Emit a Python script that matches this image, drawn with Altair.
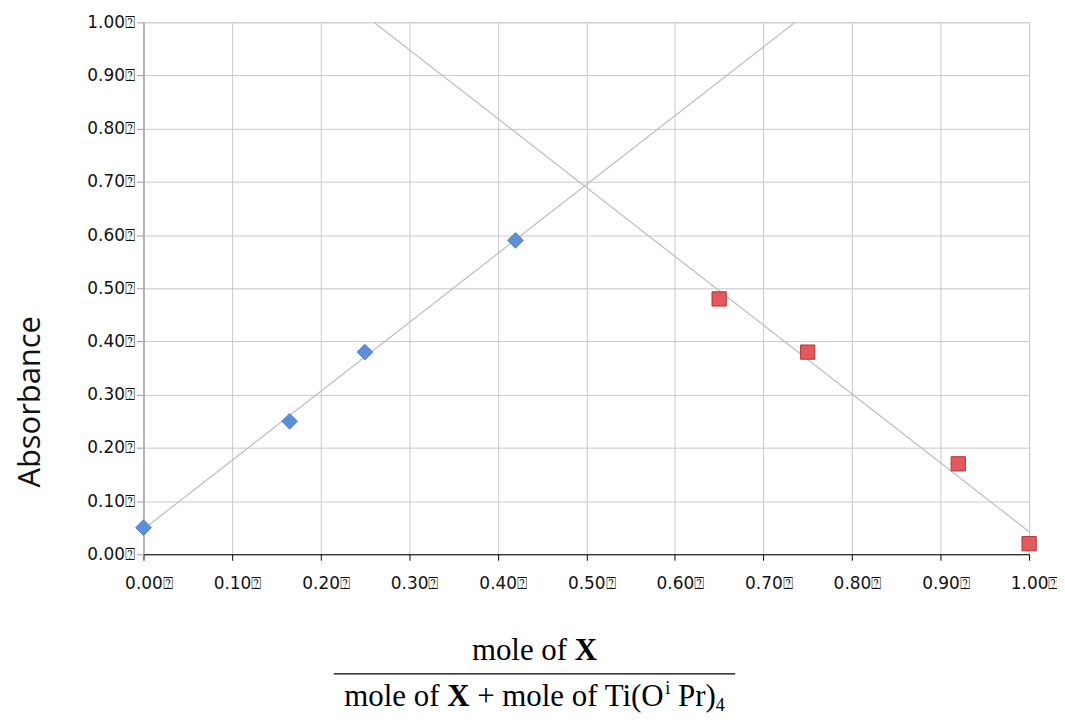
import altair as alt
import pandas as pd

# ---- data ----
blue_x = [0.00, 0.165, 0.25, 0.42]
blue_y = [0.05, 0.25, 0.38, 0.59]
red_x = [0.65, 0.75, 0.92, 1.00]
red_y = [0.48, 0.38, 0.17, 0.02]
tick_values = [0.0, 0.1, 0.2, 0.3, 0.4, 0.5, 0.6, 0.7, 0.8, 0.9, 1.0]
y_title = "Absorbance"
num_parts = [("mole of ", "normal"), ("X", "bold")]
den_parts = [("mole of ", "normal", "base"), ("X", "bold", "base"),
             (" + mole of Ti(O", "normal", "base"),
             ("i", "normal", "sup"),
             (" Pr)", "normal", "base"), ("4", "normal", "sub")]

df = pd.DataFrame({
    "x": blue_x + red_x,
    "y": blue_y + red_y,
    "s": ["A"] * len(blue_x) + ["B"] * len(red_x),
})

W, H = 889, 534
LABEL = "format(datum.value, '.2f') + '\u2370'"

xs = alt.Scale(domain=[0, 1], nice=False, zero=False)
ys = alt.Scale(domain=[0, 1], nice=False, zero=False)

x_axis = alt.Axis(values=tick_values, labelExpr=LABEL, title=None, grid=True,
                  gridColor="#c9c9c9", gridWidth=1, domainColor="#000000",
                  domainWidth=1.2, tickColor="#000000", tickSize=6,
                  labelFont="DejaVu Sans", labelFontSize=17, labelColor="#111111",
                  labelPadding=15, labelOffset=5, labelFlush=False, labelOverlap=False)
y_axis = alt.Axis(values=tick_values, labelExpr=LABEL, title=None, grid=True,
                  gridColor="#c9c9c9", gridWidth=1, domainColor="#a0a0a0",
                  domainWidth=1.3, tickColor="#a0a0a0", tickSize=7,
                  labelFont="DejaVu Sans", labelFontSize=17, labelColor="#111111",
                  labelPadding=2, labelFlush=False, labelOverlap=False)

base = alt.Chart(df)

trend_a = base.transform_filter("datum.s == 'A'").transform_regression(
    "x", "y", extent=[0, 1]).mark_line(color="#bdbdbd", strokeWidth=1.2, clip=True).encode(
    x=alt.X("x:Q", scale=xs, axis=x_axis), y=alt.Y("y:Q", scale=ys, axis=y_axis))
trend_b = base.transform_filter("datum.s == 'B'").transform_regression(
    "x", "y", extent=[0, 1]).mark_line(color="#bdbdbd", strokeWidth=1.2, clip=True).encode(
    x=alt.X("x:Q", scale=xs), y=alt.Y("y:Q", scale=ys))

pts_a = base.transform_filter("datum.s == 'A'").mark_point(
    shape="diamond", size=250, filled=True, fill="#5a8fda", stroke="#4678c0",
    strokeWidth=0.8, opacity=1).encode(x=alt.X("x:Q", scale=xs), y=alt.Y("y:Q", scale=ys))
pts_b = base.transform_filter("datum.s == 'B'").mark_point(
    shape="square", size=205, filled=True, fill="#e25a5c", stroke="#b53638",
    strokeWidth=1, opacity=1).encode(x=alt.X("x:Q", scale=xs), y=alt.Y("y:Q", scale=ys))

# ---- axis titles ----
ytitle = alt.Chart(pd.DataFrame({"t": [y_title]})).mark_text(
    font="Open Sans", fontSize=31, angle=270, align="center", baseline="middle",
    color="#111111").encode(x=alt.value(-113), y=alt.value(381), text="t:N")

# Times-metric widths (per em) to place the pieces of the fraction title
TIMES = {"m": .778, "o": .5, "l": .278, "e": .444, " ": .25, "f": .333, "+": .564,
         "T": .611, "i": .278, "(": .333, "O": .722, "P": .556, "r": .333, ")": .333,
         "4": .5, "X": .722}
F = 31
SMALL = 18


def width(t, size):
    return sum(TIMES[c] for c in t) * size


def lead(t, size):
    # width of leading spaces (SVG drops them, so shift the text instead)
    return width(t[:len(t) - len(t.lstrip())], size)


CENTER = 392.5
layers = []


def add_piece(t, size, wgt, x, y):
    layers.append(alt.Chart(pd.DataFrame({"t": [t.strip()]})).mark_text(
        font="Liberation Serif", fontSize=size, fontWeight=wgt, align="left",
        baseline="alphabetic", color="#000000").encode(
        x=alt.value(x + lead(t, size)), y=alt.value(y), text="t:N"))


num_w = sum(width(t, F) for t, _ in num_parts)
xpos = CENTER - num_w / 2
for t, wgt in num_parts:
    add_piece(t, F, wgt, xpos, 640)
    xpos += width(t, F)

size_of = {"base": F, "sup": SMALL, "sub": SMALL}
ybase = {"base": 686, "sup": 674, "sub": 691}
den_w = sum(width(t, size_of[k]) for t, _, k in den_parts)
xpos = CENTER - den_w / 2
for t, wgt, k in den_parts:
    add_piece(t, size_of[k], wgt, xpos, ybase[k])
    xpos += width(t, size_of[k])

frac_line = alt.Chart(pd.DataFrame({"t": [0]})).mark_rule(
    color="#000000", strokeWidth=1.3).encode(
    x=alt.value(191), x2=alt.value(594), y=alt.value(654))

chart = alt.layer(trend_a, trend_b, pts_a, pts_b, ytitle, frac_line, *layers).properties(
    width=W, height=H,
    autosize=alt.AutoSizeParams(type="none"),
    padding={"left": 136, "top": 13, "right": 28, "bottom": 160},
).configure_view(stroke=None).configure(background="#ffffff")

chart.save("out.html", embed_options={"renderer": "svg", "actions": False})
